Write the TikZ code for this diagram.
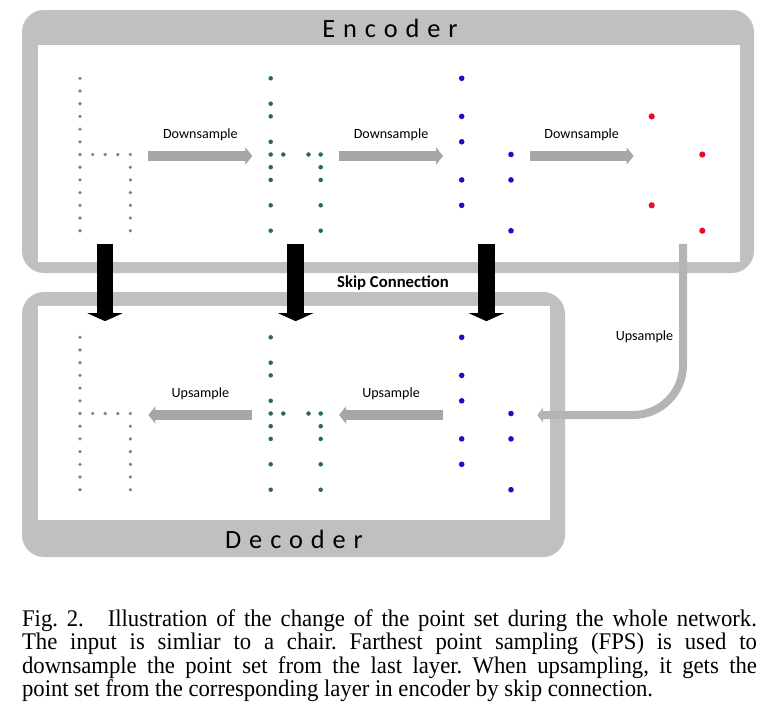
\documentclass[tikz,border=0pt]{standalone}
\usepackage{fontspec}
\setmainfont{Liberation Serif}
\newfontfamily\capfont[FakeStretch=0.95]{Liberation Serif}
\newfontfamily\calibri{Carlito}
\newfontfamily\spaced[LetterSpace=30]{Carlito}
\usetikzlibrary{arrows.meta,positioning}

\definecolor{framegray}{HTML}{C0C0C0}
\definecolor{arrowgray}{HTML}{A6A6A6}
\definecolor{upgray}{HTML}{B4B4B4}
\definecolor{ptgray}{HTML}{7F7F7F}
\definecolor{ptgreen}{HTML}{2A6B48}
\definecolor{ptblue}{HTML}{1A0FC8}
\definecolor{ptred}{HTML}{E3102C}

\begin{document}
\begin{tikzpicture}[x=0.02cm, y=-0.02cm,
  frame/.style={fill=framegray, rounded corners=0.44cm},
  cloud/.style={minimum width=1.72cm, minimum height=3.5cm, inner sep=0pt},
  title/.style={font=\spaced\fontsize{15}{18}\selectfont},
  lbl/.style={font=\calibri\fontsize{8}{10}\selectfont, text=black, yshift=0.42cm},
  samp/.style={arrowgray, line width=0.2cm, -{Triangle[length=0.14cm, width=0.34cm]}},
  upsamp/.style={upgray, line width=0.16cm, rounded corners=1cm, -{Triangle[length=0.12cm, width=0.3cm]}},
  skip/.style={black, line width=0.34cm, shorten >=0.12cm, -{Triangle[length=0.16cm, width=0.7cm]}}
]
\useasboundingbox (0,0) rectangle (767,714);

% Encoder and Decoder frames
\fill[frame] (22,10) rectangle (754,273);
\fill[white] (38,45) rectangle (740,262);
\fill[frame] (22,292) rectangle (565,557);
\fill[white] (38,306) rectangle (550,520);
\node[title] (enctitle) at (390,28) {Encoder};
\node[title] (dectitle) at (294,539) {Decoder};

% Point sets
\node[cloud] (enc1) at (105,156) {};
\node[cloud] (enc2) at (295.7,156) {};
\node[cloud] (enc3) at (486.4,156) {};
\node[cloud] (enc4) at (677,156) {};
\node[cloud] (dec1) at (105,415) {};
\node[cloud] (dec2) at (295.7,415) {};
\node[cloud] (dec3) at (486.4,415) {};

\foreach \dy in {0,259} {
  % input chair
  \foreach \r in {0,...,12} \fill[ptgray] (80,78.3+\dy+12.7*\r) circle[radius=0.036cm];
  \foreach \k in {1,...,4} \fill[ptgray] (80+12.6*\k,154.5+\dy) circle[radius=0.036cm];
  \foreach \r in {7,...,12} \fill[ptgray] (130.4,78.3+\dy+12.7*\r) circle[radius=0.036cm];
  % first layer
  \foreach \r in {0,2,3,5,6,7,8,10,12} \fill[ptgreen] (270.7,78.3+\dy+12.7*\r) circle[radius=0.045cm];
  \foreach \k in {1,3} \fill[ptgreen] (270.7+12.6*\k,154.5+\dy) circle[radius=0.045cm];
  \foreach \r in {6,7,8,10,12} \fill[ptgreen] (320.7,78.3+\dy+12.7*\r) circle[radius=0.045cm];
  % second layer
  \foreach \r in {0,3,5,8,10} \fill[ptblue] (461.7,78.3+\dy+12.7*\r) circle[radius=0.056cm];
  \foreach \r in {6,8,12} \fill[ptblue] (511,78.3+\dy+12.7*\r) circle[radius=0.056cm];
}
% last layer
\foreach \r in {3,10} \fill[ptred] (651.7,78.3+12.7*\r) circle[radius=0.062cm];
\foreach \r in {6,12} \fill[ptred] (702.3,78.3+12.7*\r) circle[radius=0.062cm];

% Arrows
\draw[samp] (enc1) -- node[lbl]{Downsample} (enc2);
\draw[samp] (enc2) -- node[lbl]{Downsample} (enc3);
\draw[samp] (enc3) -- node[lbl]{Downsample} (enc4);
\draw[samp] (dec2) -- node[lbl]{Upsample} (dec1);
\draw[samp] (dec3) -- node[lbl]{Upsample} (dec2);
\draw[upsamp, shorten >=0.15cm] ([xshift=0.12cm]enc4.south) |- node[pos=0.27, left, font=\calibri\fontsize{8}{10}\selectfont, text=black]{Upsample} (dec3.east);
\draw[skip] (enc1) -- (dec1);
\draw[skip] (enc2) -- (dec2);
\draw[skip] (enc3) -- (dec3);
\node[font=\calibri\bfseries\fontsize{9.5}{11}\selectfont] (skiplbl) at (393,283) {Skip Connection};

% Caption
\node[anchor=north, text width=14.7cm, align=justify, inner sep=0pt, font=\capfont\fontsize{13.6}{13.4}\selectfont\frenchspacing] (caption) at (389.5,609)
  {Fig.~2.\quad Illustration of the change of the point set during the whole network.\linebreak
   The input is simliar to a chair. Farthest point sampling (FPS) is used to\linebreak
   downsample the point set from the last layer. When upsampling, it gets the\linebreak
   point set from the corresponding layer in encoder by skip connection.};
\end{tikzpicture}
\end{document}
